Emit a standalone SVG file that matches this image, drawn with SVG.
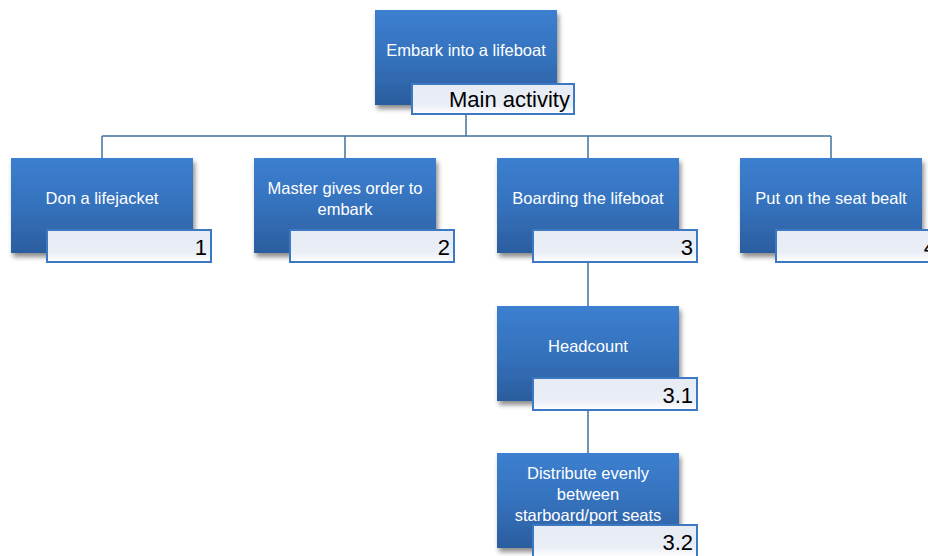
<svg xmlns="http://www.w3.org/2000/svg" width="928" height="556" viewBox="0 0 928 556">
<defs>
<linearGradient id="g" x1="0" y1="0" x2="0" y2="1">
<stop offset="0" stop-color="#3c7fd0"/>
<stop offset="0.5" stop-color="#3572bd"/>
<stop offset="1" stop-color="#2b5d9e"/>
</linearGradient>
<filter id="sh" x="-10%" y="-10%" width="130%" height="130%">
<feDropShadow dx="2" dy="4" stdDeviation="2.5" flood-color="#000" flood-opacity="0.45"/>
</filter>
<linearGradient id="lg" x1="0" y1="0" x2="0" y2="1">
<stop offset="0" stop-color="#e6ebf4"/>
<stop offset="0.7" stop-color="#eaeef6"/>
<stop offset="1" stop-color="#ffffff"/>
</linearGradient>
</defs>
<style>
.box{fill:url(#g);filter:url(#sh);}
.lab{fill:url(#lg);stroke:#3d78c2;stroke-width:2;}
.t{font-family:"Liberation Sans",Arial,sans-serif;font-size:16.5px;fill:#ffffff;text-anchor:middle;}
.n{font-family:"Liberation Sans",Arial,sans-serif;font-size:22px;fill:#000000;text-anchor:end;}
.c{stroke:#41719c;stroke-width:1.5;fill:none;}
</style>
<rect width="928" height="556" fill="#ffffff"/>
<g id="connectors">
<path class="c" d="M466 114 V136 M102 136 H831 M102 136 V158 M345 136 V158 M588 136 V158 M831 136 V158 M588 262 V306 M588 410 V453"/>
</g>
<g id="n0">
<rect class="box" x="375" y="10" width="182" height="95"/>
<text class="t" x="466" y="56">Embark into a lifeboat</text>
<rect class="lab" x="412" y="84" width="162" height="30"/>
<text class="n" x="570" y="107">Main activity</text>
</g>
<g id="n1">
<rect class="box" x="11" y="158" width="182" height="95"/>
<text class="t" x="102" y="204">Don a lifejacket</text>
<rect class="lab" x="47" y="230" width="164" height="32"/>
<text class="n" x="207" y="255">1</text>
</g>
<g id="n2">
<rect class="box" x="254" y="158" width="182" height="95"/>
<text class="t" x="345" y="194">Master gives order to</text>
<text class="t" x="345" y="215">embark</text>
<rect class="lab" x="290" y="230" width="164" height="32"/>
<text class="n" x="450" y="255">2</text>
</g>
<g id="n3">
<rect class="box" x="497" y="158" width="182" height="95"/>
<text class="t" x="588" y="204">Boarding the lifeboat</text>
<rect class="lab" x="533" y="230" width="164" height="32"/>
<text class="n" x="693" y="255">3</text>
</g>
<g id="n4">
<rect class="box" x="740" y="158" width="182" height="95"/>
<text class="t" x="831" y="204">Put on the seat bealt</text>
<rect class="lab" x="776" y="230" width="164" height="32"/>
<text class="n" x="936" y="255">4</text>
</g>
<g id="n31">
<rect class="box" x="497" y="306" width="182" height="95"/>
<text class="t" x="588" y="352">Headcount</text>
<rect class="lab" x="533" y="378" width="164" height="32"/>
<text class="n" x="693" y="403">3.1</text>
</g>
<g id="n32">
<rect class="box" x="497" y="453" width="182" height="95"/>
<text class="t" x="588" y="479">Distribute evenly</text>
<text class="t" x="588" y="500">between</text>
<text class="t" x="588" y="521">starboard/port seats</text>
<rect class="lab" x="533" y="525" width="164" height="32"/>
<text class="n" x="693" y="550">3.2</text>
</g>
</svg>
